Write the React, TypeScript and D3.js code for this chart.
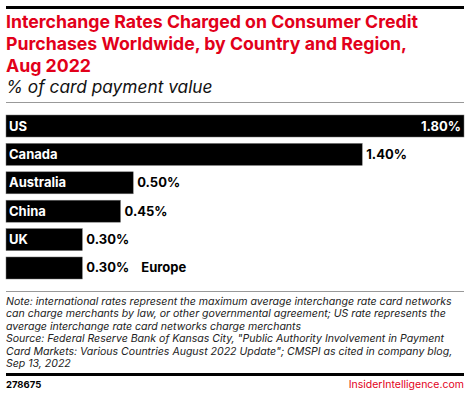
import React, { useEffect, useRef } from 'react';
import * as d3 from 'd3';

const categories = ['US', 'Canada', 'Australia', 'China', 'UK', 'Europe'];
const values = [1.8, 1.4, 0.5, 0.45, 0.3, 0.3];
const valueLabels = ['1.80%', '1.40%', '0.50%', '0.45%', '0.30%', '0.30%'];
const titleLines = [
  'Interchange Rates Charged on Consumer Credit',
  'Purchases Worldwide, by Country and Region,',
  'Aug 2022',
];
const subtitle = '% of card payment value';
const noteLines = [
  'Note: international rates represent the maximum average interchange rate card networks',
  'can charge merchants by law, or other governmental agreement; US rate represents the',
  'average interchange rate card networks charge merchants',
  'Source: Federal Reserve Bank of Kansas City, "Public Authority Involvement in Payment',
  'Card Markets: Various Countries August 2022 Update"; CMSPI as cited in company blog,',
  'Sep 13, 2022',
];

const W = 470;
const H = 393;
const FONT = 'Inter, "Noto Sans", sans-serif';
const RED = '#e2001a';

function App() {
  const ref = useRef<SVGSVGElement>(null);

  useEffect(() => {
    const svg = d3.select(ref.current);
    svg.selectAll('*').remove();

    // header
    svg.append('rect').attr('x', 6).attr('y', 6).attr('width', 458).attr('height', 3).attr('fill', '#000');
    svg.selectAll('text.title')
      .data(titleLines)
      .enter()
      .append('text')
      .attr('class', 'title')
      .attr('x', 6)
      .attr('y', (d, i) => 28 + i * 22)
      .attr('font-family', FONT)
      .attr('font-weight', 700)
      .attr('font-size', 17.7)
      .attr('fill', RED)
      .text(d => d);
    svg.append('text')
      .attr('x', 6).attr('y', 93)
      .attr('font-family', FONT).attr('font-style', 'italic')
      .attr('font-size', 17.3).attr('fill', '#111')
      .text(subtitle);
    svg.append('rect').attr('x', 6).attr('y', 102).attr('width', 458).attr('height', 1).attr('fill', '#999');

    // bars
    const x = d3.scaleLinear().domain([0, 1.8]).range([6, 464]);
    const y = d3.scaleBand().domain(categories).range([115, 279]).paddingInner(0.225).paddingOuter(0);

    const g = svg.append('g');
    const rows = g.selectAll('g.row').data(categories).enter().append('g').attr('class', 'row');
    rows.append('rect')
      .attr('x', x(0))
      .attr('y', d => y(d)!)
      .attr('width', (d, i) => x(values[i]) - x(0))
      .attr('height', y.bandwidth())
      .attr('fill', '#000')
      .attr('stroke', '#777')
      .attr('stroke-width', 0.5);

    rows.filter(d => d !== 'Europe').append('text')
      .attr('x', 9)
      .attr('y', d => y(d)! + y.bandwidth() / 2 + 4.5)
      .attr('font-family', FONT).attr('font-weight', 700).attr('font-size', 13)
      .attr('fill', '#fff')
      .text(d => d);

    rows.append('text')
      .attr('x', (d, i) => (i === 0 ? x(values[i]) - 3 : x(values[i]) + 4))
      .attr('text-anchor', (d, i) => (i === 0 ? 'end' : 'start'))
      .attr('y', d => y(d)! + y.bandwidth() / 2 + 4.5)
      .attr('font-family', FONT).attr('font-weight', 700).attr('font-size', 13)
      .attr('fill', (d, i) => (i === 0 ? '#fff' : '#000'))
      .text((d, i) => valueLabels[i]);

    // Europe label sits outside the bar
    const eu = categories.length - 1;
    svg.append('text')
      .attr('x', x(values[eu]) + 59)
      .attr('y', y(categories[eu])! + y.bandwidth() / 2 + 4.5)
      .attr('font-family', FONT).attr('font-weight', 700).attr('font-size', 13)
      .attr('fill', '#000')
      .text(categories[eu]);

    // footer
    svg.append('rect').attr('x', 6).attr('y', 291).attr('width', 458).attr('height', 1).attr('fill', '#999');
    svg.selectAll('text.note')
      .data(noteLines)
      .enter()
      .append('text')
      .attr('class', 'note')
      .attr('x', 6)
      .attr('y', (d, i) => 305 + i * 12.4)
      .attr('font-family', FONT).attr('font-style', 'italic')
      .attr('font-size', 10.55).attr('fill', '#222')
      .text(d => d);
    svg.append('rect').attr('x', 6).attr('y', 373).attr('width', 458).attr('height', 3).attr('fill', '#000');
    svg.append('text')
      .attr('x', 6).attr('y', 388)
      .attr('font-family', FONT).attr('font-weight', 700).attr('font-size', 9.5)
      .attr('fill', '#000')
      .text('278675');
    svg.append('text')
      .attr('x', 464).attr('y', 388).attr('text-anchor', 'end')
      .attr('font-family', FONT).attr('font-size', 10.5)
      .attr('fill', RED)
      .text('InsiderIntelligence.com');
  }, []);

  return <svg ref={ref} width={W} height={H} style={{ position: 'absolute', left: 0, top: 0, background: '#fff' }} />;
}

export default App;
